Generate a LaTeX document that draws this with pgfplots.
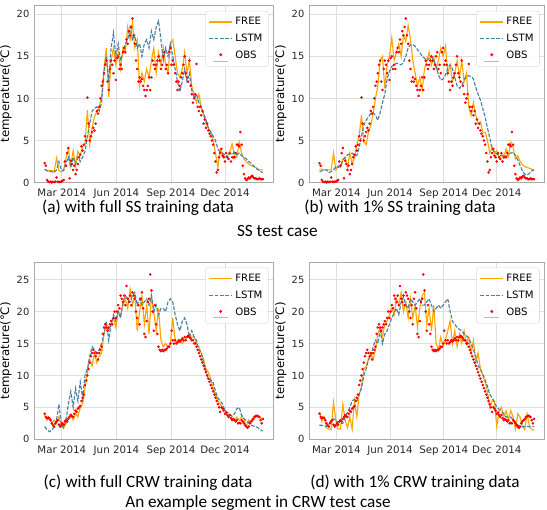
\documentclass[border=0pt]{standalone}
\usepackage{pgfplots}
\usepackage{pgfplotstable}
\pgfplotsset{compat=1.18}
\usepackage{fontspec}
\setmainfont{Carlito}
\newfontfamily\dejavu{DejaVu Sans}

\definecolor{freec}{RGB}{255,165,0}
\definecolor{lstmc}{RGB}{70,128,165}
\definecolor{gridc}{RGB}{222,222,222}
\definecolor{framec}{RGB}{170,170,170}

% SS lines: day, FREE/LSTM for (a) full data and (b) 1% data
\pgfplotstableread{
day fa la fb lb
30 1.5 1.6 1.6 1.3
34 1.4 1.4 1.6 1.4
38 1.4 1.3 1.5 1.5
42 1.4 1.3 1.5 1.5
46 1.3 1.2 1.5 1.2
50 2.9 1.5 1.5 1.3
54 1.4 2.5 3.5 1.5
58 1.3 1.5 1.5 1.9
62 1.5 1.4 2.0 1.8
66 2.9 2.3 1.8 2.0
70 4.0 3.0 2.8 2.6
74 2.0 1.8 3.0 3.0
78 3.8 3.0 1.8 3.3
82 2.0 2.2 3.5 3.4
86 3.7 3.0 2.2 3.5
90 3.3 2.5 3.0 3.2
94 4.3 3.0 4.5 3.2
98 4.6 3.7 5.5 4.2
102 8.6 5.5 8.0 5.5
106 4.5 7.0 4.8 6.8
110 6.5 8.5 4.5 7.4
114 7.8 8.8 6.0 7.8
118 8.5 9.0 6.8 8.2
122 9.0 8.5 8.2 8.3
126 10.2 9.5 10.0 8.0
130 13.5 13.0 11.5 7.4
134 16.0 15.0 14.5 8.3
138 10.2 12.0 15.0 9.5
142 14.5 16.0 11.2 10.5
146 16.0 17.8 14.0 12.3
150 14.0 15.0 15.0 13.2
154 15.5 16.5 17.2 13.8
158 13.5 14.5 14.5 14.0
162 16.0 15.5 15.5 14.2
166 15.5 16.5 16.5 14.1
170 18.5 17.0 15.0 14.0
174 17.0 18.5 17.5 14.3
178 19.0 17.0 16.8 15.0
182 16.0 17.5 18.7 16.0
186 17.0 16.0 17.0 16.4
190 11.5 16.5 14.5 16.4
194 13.0 15.0 13.0 16.2
198 12.0 16.5 11.5 15.8
202 13.5 17.0 12.5 15.5
206 12.5 16.0 11.0 15.0
210 14.5 18.0 13.5 14.8
214 16.0 17.0 14.5 14.5
218 13.0 18.5 15.5 14.8
222 15.5 19.2 14.0 15.0
226 14.0 17.0 15.0 14.5
230 16.0 14.5 13.5 13.8
234 14.0 16.0 14.5 12.8
238 13.0 15.0 16.0 12.2
242 16.5 16.5 15.0 12.3
246 17.0 15.0 16.2 12.8
250 15.0 13.5 13.0 13.6
254 13.0 12.0 14.0 14.0
258 12.5 10.8 12.0 13.5
262 13.5 12.0 13.0 12.5
266 15.5 13.5 14.5 11.5
270 13.0 12.0 12.5 11.2
274 14.5 13.0 14.5 11.5
278 11.5 11.0 12.0 12.2
282 10.5 10.0 13.0 12.6
286 9.5 10.5 9.0 12.7
290 10.5 9.5 8.0 12.6
294 9.0 9.0 9.5 12.3
298 8.0 8.2 8.0 11.3
302 7.0 7.5 7.0 10.5
306 6.5 6.5 7.2 9.8
310 6.0 6.0 6.0 8.8
314 5.0 5.5 6.0 7.8
318 3.5 5.0 5.0 6.5
322 1.8 4.0 3.5 5.3
326 4.0 3.6 4.2 4.0
330 3.5 3.5 3.5 3.6
334 3.0 3.3 3.8 3.4
338 3.2 3.0 3.0 3.2
342 3.6 3.5 3.3 3.2
346 4.6 3.3 3.0 3.3
350 3.2 3.6 4.0 3.1
354 3.0 3.3 3.2 3.3
358 4.8 3.5 4.8 3.5
362 3.5 3.2 4.2 3.6
366 2.8 3.0 2.8 3.2
370 2.5 2.8 3.2 2.7
374 2.2 2.5 2.5 2.0
378 2.0 2.3 2.1 1.4
382 1.9 2.0 1.9 1.0
386 1.8 1.7 1.8 0.9
390 1.6 1.5 1.7 1.1
394 1.5 1.3 1.6 1.4
398 1.5 1.2 1.5 1.5
}\ssline

\pgfplotstableread{
day v
30 2.3
32 2.0
34 0.3
36 0.1
38 0.05
40 0.1
42 0.0
44 0.1
46 0.05
48 0.1
50 0.6
52 0.1
54 0.05
56 0.1
58 0.1
60 0.2
62 0.3
64 2.5
66 2.0
68 3.5
70 4.1
72 0.5
74 2.6
76 2.2
78 1.5
80 2.0
82 1.0
84 1.5
86 2.2
88 3.0
90 3.3
92 4.3
94 3.8
96 4.5
98 5.5
100 5.0
102 10.1
104 7.0
106 5.0
108 5.5
110 6.0
112 6.5
114 6.2
116 7.0
118 8.5
120 8.2
122 9.0
124 10.0
126 11.5
128 12.0
130 13.0
132 14.0
134 14.5
136 12.0
138 11.0
140 13.5
142 14.5
144 14.0
146 13.0
148 14.5
150 12.2
152 14.8
154 15.0
156 13.5
158 14.0
160 13.5
162 15.5
164 16.0
166 15.5
168 17.0
170 16.5
172 18.0
174 17.5
176 18.5
178 19.5
180 17.5
182 16.5
184 14.5
186 13.5
188 12.0
190 12.5
192 12.0
194 12.3
196 11.5
198 11.0
200 10.3
202 11.0
204 11.5
206 12.5
208 11.0
210 12.5
212 14.5
214 14.0
216 13.5
218 14.0
220 14.5
222 15.0
224 14.5
226 13.5
228 14.0
230 15.0
232 15.5
234 13.5
236 14.0
238 13.0
240 15.5
242 16.0
244 14.0
246 14.5
248 14.0
250 13.0
252 12.0
254 11.0
256 12.0
258 11.5
260 12.5
262 13.0
264 14.0
266 15.0
268 13.0
270 12.5
272 12.0
274 14.5
276 11.5
278 10.5
280 9.5
282 10.0
284 10.5
286 14.1
288 9.0
290 8.5
292 9.0
294 8.0
296 8.5
298 7.0
300 7.5
302 6.5
304 7.0
306 6.2
308 5.8
310 5.5
312 5.0
314 4.5
316 3.5
318 2.5
320 1.2
322 1.5
324 3.0
326 3.5
328 4.0
330 3.2
332 3.0
334 2.5
336 3.5
338 3.0
340 2.8
342 3.5
344 2.5
346 3.0
348 3.0
350 3.0
352 3.5
354 4.5
356 4.5
358 4.3
360 6.0
362 4.5
364 2.0
366 1.0
368 0.5
370 0.3
372 0.4
374 0.6
376 0.5
378 0.7
380 0.8
382 0.6
384 0.5
386 0.5
388 0.4
390 0.4
392 0.5
394 0.4
396 0.4
398 0.4
}\ssobs

% CRW lines: day, FREE/LSTM for (c) full data and (d) 1% data
\pgfplotstableread{
day fc lc fd ld
30 3.8 2.0 4.3 2.2
34 3.0 1.5 2.8 2.2
38 3.3 1.2 3.5 2.1
42 2.5 1.4 1.8 2.0
46 3.0 2.0 1.6 2.3
50 2.5 3.0 1.5 3.0
54 3.5 5.5 5.8 3.2
58 2.0 2.5 3.0 3.0
62 1.8 1.8 1.6 2.6
66 2.5 3.0 1.6 2.5
70 3.5 5.5 5.5 2.5
74 4.0 7.5 3.0 3.5
78 3.0 5.0 1.8 4.2
82 4.0 8.0 3.5 5.0
86 3.5 6.0 1.6 6.0
90 5.0 9.0 6.0 6.3
94 5.5 6.5 3.5 6.0
98 8.0 10.0 7.0 7.0
102 10.5 11.0 8.2 8.0
106 12.5 13.0 11.0 10.0
110 11.5 14.5 11.5 11.0
114 13.5 14.0 12.5 12.5
118 12.0 13.5 13.5 13.0
122 13.0 14.0 12.5 14.5
126 13.5 15.0 14.0 15.5
130 16.5 16.5 16.5 15.0
134 18.0 18.5 17.5 17.0
138 17.0 15.5 16.0 15.0
142 18.0 18.0 18.0 16.5
146 19.0 19.5 18.5 17.0
150 17.5 18.5 19.5 18.0
154 20.0 20.0 20.5 19.0
158 19.5 19.0 19.5 19.8
162 21.0 21.5 22.0 20.5
166 22.0 22.5 21.0 19.5
170 20.5 22.0 23.0 21.5
174 23.5 21.5 20.0 22.3
178 21.0 22.5 21.5 21.0
182 22.5 23.0 19.0 20.5
186 17.0 21.0 22.0 22.0
190 20.0 22.0 19.0 21.5
194 22.5 21.0 21.0 21.0
198 18.0 21.5 17.5 21.5
202 21.0 22.0 20.5 22.0
206 16.5 21.0 22.5 21.0
210 22.5 22.5 23.0 21.0
214 20.0 20.0 18.0 21.5
218 17.0 21.0 20.5 22.0
222 20.5 19.5 17.0 21.0
226 15.5 20.5 21.0 20.0
230 14.5 20.5 15.0 20.5
234 15.0 20.0 14.0 21.0
238 14.5 21.5 16.0 20.5
242 15.0 22.0 14.5 21.0
246 19.0 21.5 15.5 21.5
250 15.5 19.5 17.0 22.0
254 15.0 18.0 18.5 20.0
258 15.5 17.0 15.0 18.5
262 15.0 18.5 17.0 18.0
266 15.5 19.0 14.5 17.5
270 16.0 18.0 16.5 17.2
274 16.5 16.0 15.0 17.0
278 16.0 17.0 17.0 16.5
282 16.0 16.0 15.0 16.2
286 15.0 15.5 16.0 15.8
290 14.5 14.0 13.5 15.0
294 13.5 13.5 15.5 14.0
298 12.5 12.0 12.0 13.0
302 11.0 10.5 13.5 11.5
306 10.5 9.5 11.0 11.0
310 9.5 9.3 10.0 10.2
314 8.0 9.0 9.0 9.3
318 7.0 7.5 7.5 8.3
322 6.0 6.5 5.0 7.0
326 5.5 6.0 6.0 6.5
330 5.0 5.5 6.0 5.8
334 4.5 4.5 2.0 5.0
338 4.0 4.2 4.5 4.7
342 3.5 4.0 5.0 4.4
346 3.2 3.6 3.5 4.0
350 3.0 4.0 4.5 3.5
354 3.5 4.8 3.0 3.5
358 3.0 5.0 4.5 3.5
362 3.5 3.8 3.5 3.0
366 3.2 3.2 1.6 2.6
370 2.0 3.0 4.0 2.3
374 3.0 2.6 3.5 2.0
378 2.5 2.2 2.0 2.0
382 3.5 2.1 1.5 2.0
386 3.8 2.0 4.0 2.0
390 3.5 1.8 2.0 2.0
394 3.3 1.5 1.6 2.0
398 3.2 1.3 1.4 2.0
}\crwline

\pgfplotstableread{
day v
30 4.0
32 3.5
34 3.3
36 3.4
38 3.3
40 3.0
42 2.5
44 2.2
46 2.0
48 2.5
50 2.8
52 3.0
54 2.3
56 2.0
58 2.2
60 2.5
62 2.3
64 2.8
66 3.0
68 2.8
70 3.2
72 3.5
74 3.8
76 3.6
78 3.5
80 4.0
82 4.5
84 4.3
86 4.8
88 5.0
90 5.2
92 6.0
94 6.5
96 7.0
98 8.5
100 9.2
102 10.0
104 11.0
106 12.0
108 13.0
110 13.5
112 14.0
114 13.5
116 13.0
118 13.5
120 12.5
122 13.5
124 14.0
126 14.5
128 16.5
130 17.5
132 18.0
134 17.5
136 17.0
138 17.5
140 18.0
142 18.5
144 18.0
146 19.0
148 20.0
150 19.0
152 20.0
154 21.0
156 20.5
158 22.5
160 22.0
162 21.5
164 22.5
166 21.0
168 24.0
170 22.0
172 21.5
174 22.5
176 21.0
178 23.0
180 22.5
182 22.0
184 20.0
186 19.0
188 21.0
190 18.0
192 22.0
194 23.0
196 20.5
198 16.5
200 16.0
202 18.5
204 21.5
206 22.0
208 25.8
210 23.3
212 20.0
214 17.0
216 21.0
218 18.0
220 16.5
222 14.5
224 14.0
226 13.8
228 14.0
230 13.8
232 14.0
234 14.0
236 14.2
238 14.5
240 14.5
242 15.0
244 17.0
246 15.5
248 15.0
250 15.5
252 15.0
254 15.2
256 15.5
258 15.3
260 15.5
262 15.8
264 15.5
266 16.0
268 15.5
270 16.0
272 16.2
274 16.0
276 15.8
278 15.5
280 15.5
282 15.0
284 15.0
286 14.5
288 14.0
290 13.5
292 13.0
294 12.5
296 12.0
298 11.5
300 11.0
302 10.5
304 10.0
306 9.5
308 9.0
310 8.5
312 8.0
314 7.5
316 7.0
318 6.5
320 6.0
322 5.5
324 5.0
326 4.3
328 5.0
330 4.8
332 4.5
334 4.0
336 4.2
338 3.8
340 3.5
342 3.8
344 3.3
346 3.0
348 3.2
350 3.0
352 2.8
354 3.0
356 2.5
358 2.6
360 2.5
362 3.0
364 2.8
366 2.5
368 2.2
370 2.0
372 1.8
374 2.0
376 2.5
378 2.8
380 3.0
382 3.2
384 3.5
386 3.6
388 3.7
390 3.6
392 3.5
394 3.0
396 2.5
398 3.2
}\crwobs

\pgfplotsset{
  panel/.style={
    scale only axis,
    anchor=south west,
    xmin=12, xmax=415, ymin=0,
    xtick={59,151,243,334},
    xticklabels={Mar 2014,Jun 2014,Sep 2014,Dec 2014},
    grid=major,
    major grid style={gridc, line width=0.6pt},
    axis line style={framec, line width=0.6pt},
    major tick length=0pt,
    xticklabel style={font=\dejavu\fontsize{7.7}{9}\selectfont, black!85, yshift=-4.6pt, inner xsep=0pt, inner ysep=0pt},
    yticklabel style={font=\dejavu\fontsize{7.4}{9}\selectfont, black!85},
    /pgf/number format/assume math mode=true,
    ylabel={temperature(°C)},
    ylabel style={font=\dejavu\fontsize{8.8}{9}\selectfont, yshift=-3pt},
    legend cell align=left,
    legend style={anchor=north east,
      font=\dejavu\fontsize{7.6}{9}\selectfont,
      draw=gridc, rounded corners=2pt, fill=white, fill opacity=0.85, text opacity=1,
      row sep=1.6pt, inner xsep=2.5pt, inner ysep=2.5pt},
  },
  freeline/.style={freec, line width=0.85pt, no marks,
    legend image code/.code={\draw[freec,line width=1pt] (0cm,0cm) -- (0.6cm,0cm);}},
  lstmline/.style={lstmc, line width=0.85pt, no marks, dash pattern=on 2.8pt off 1.2pt,
    legend image code/.code={\draw[lstmc,line width=0.8pt,dash pattern=on 2.8pt off 1.2pt] (0cm,0cm) -- (0.6cm,0cm);}},
  obsmark/.style={only marks, mark=*, mark size=0.75pt, red, mark options={draw=none, fill=red},
    legend image code/.code={\fill[red] (0.3cm,0.8pt) circle (0.9pt);
      \draw[gray!55,line width=0.4pt] (0.1cm,-3.8pt) -- (0.5cm,-3.8pt);}},
}

\begin{document}
\begin{tikzpicture}
\useasboundingbox (0,0) rectangle (410.25pt,-382.5pt);

\begin{axis}[panel, at={(25.5pt,-136.9pt)}, width=179.25pt, height=133.1pt, ymax=21.1, ytick={0,5,10,15,20},
  legend style={at={(0.982,0.967)}}]
\addplot[freeline] table[x=day,y=fa] {\ssline};
\addplot[lstmline] table[x=day,y=la] {\ssline};
\addplot[obsmark] table[x=day,y=v] {\ssobs};
\legend{FREE,LSTM,OBS}
\end{axis}

\begin{axis}[panel, at={(231.75pt,-136.9pt)}, width=176.25pt, height=133.1pt, ymax=21.1, ytick={0,5,10,15,20},
  legend style={at={(0.982,0.967)}}]
\addplot[freeline] table[x=day,y=fb] {\ssline};
\addplot[lstmline] table[x=day,y=lb] {\ssline};
\addplot[obsmark] table[x=day,y=v] {\ssobs};
\legend{FREE,LSTM,OBS}
\end{axis}

\begin{axis}[panel, at={(25.5pt,-329.5pt)}, width=179.25pt, height=132.75pt, ymax=27.7, ytick={0,5,10,15,20,25},
  legend style={at={(0.982,0.97)}}]
\addplot[freeline] table[x=day,y=fc] {\crwline};
\addplot[lstmline] table[x=day,y=lc] {\crwline};
\addplot[obsmark] table[x=day,y=v] {\crwobs};
\legend{FREE,LSTM,OBS}
\end{axis}

\begin{axis}[panel, at={(231.75pt,-329.5pt)}, width=176.25pt, height=132.75pt, ymax=27.7, ytick={0,5,10,15,20,25},
  legend style={at={(0.982,0.97)}}]
\addplot[freeline] table[x=day,y=fd] {\crwline};
\addplot[lstmline] table[x=day,y=ld] {\crwline};
\addplot[obsmark] table[x=day,y=v] {\crwobs};
\legend{FREE,LSTM,OBS}
\end{axis}

\begin{scope}[every node/.style={font=\fontsize{12.9}{14}\selectfont, inner sep=0pt}]
\node at (103.5pt,-155.5pt) {(a) with full SS training data};
\node at (300pt,-155.5pt) {(b) with 1\% SS training data};
\node at (208pt,-173.5pt) {SS test case};
\node at (111pt,-362.25pt) {(c) with full CRW training data};
\node at (311.25pt,-362.25pt) {(d) with 1\% CRW training data};
\node at (193.5pt,-377.25pt) {An example segment in CRW test case};
\end{scope}
\end{tikzpicture}
\end{document}
